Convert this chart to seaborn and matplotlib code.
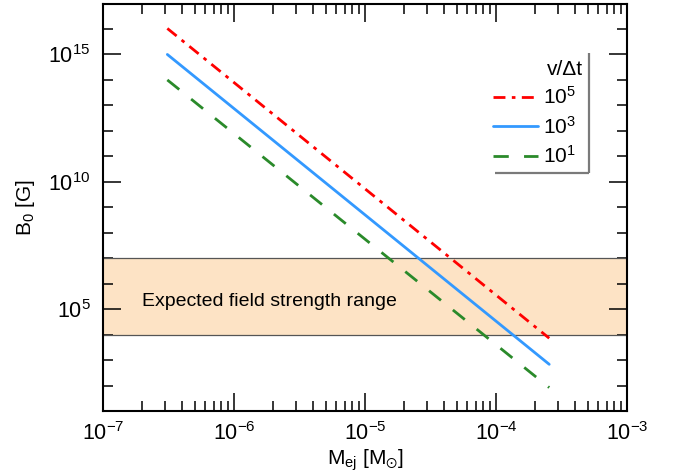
import numpy as np
import pandas as pd
import matplotlib
matplotlib.use("Agg")
import matplotlib.pyplot as plt
import seaborn as sns

# ---- data ----
m_ej = [3.1e-7, 2.55e-4]
b_v5 = [1.05e16, 7.2e3]
b_v3 = [1.0e15, 6.8e2]
b_v1 = [1.0e14, 8.3e1]
series_labels = ["10$^{5}$", "10$^{3}$", "10$^{1}$"]
legend_title = "v/\u0394t"
band_range = [1e4, 1e7]
band_text = "Expected field strength range"
x_ticks = [1e-7, 1e-6, 1e-5, 1e-4, 1e-3]
x_ticklabels = ["10$^{-7}$", "10$^{-6}$", "10$^{-5}$", "10$^{-4}$", "10$^{-3}$"]
y_ticks = [1e5, 1e10, 1e15]
y_ticklabels = ["10$^{5}$", "10$^{10}$", "10$^{15}$"]

sns.set_style("ticks")
plt.rcParams["font.family"] = ["Liberation Sans", "DejaVu Sans"]
plt.rcParams["mathtext.default"] = "regular"
plt.rcParams["mathtext.fontset"] = "custom"
plt.rcParams["mathtext.rm"] = "Liberation Sans"
plt.rcParams["mathtext.it"] = "Liberation Sans"
plt.rcParams["mathtext.fallback"] = "stixsans"
for k in ["text.color", "axes.labelcolor", "xtick.color", "ytick.color"]:
    plt.rcParams[k] = "black"

df = pd.concat([
    pd.DataFrame({"M": m_ej, "B": b_v5, "s": series_labels[0]}),
    pd.DataFrame({"M": m_ej, "B": b_v3, "s": series_labels[1]}),
    pd.DataFrame({"M": m_ej, "B": b_v1, "s": series_labels[2]}),
])

fig = plt.figure(figsize=(6.73, 4.76), dpi=100)
ax = fig.add_axes([0.153, 0.1366, 0.7786, 0.856])

colors = ["#ff0000", "#3399ff", "#2a8a2a"]
dashes = [(4.3, 2.3, 1.3, 2.3), "", (5.5, 5.5)]
fs_tick = 15.5
fs_lab = 15
fs_txt = 14

ax.axhspan(band_range[0], band_range[1], facecolor="#fde3c5", edgecolor="none", zorder=0)
for v in band_range:
    ax.axhline(v, color="#555555", lw=0.9, zorder=1)

for i, lab in enumerate(series_labels):
    sub = df[df["s"] == lab]
    sns.lineplot(data=sub, x="M", y="B", ax=ax, color=colors[i], lw=2.0,
                 label=lab + "  ", zorder=3)
    line = ax.get_lines()[-1]
    if dashes[i]:
        line.set_dashes(dashes[i])

ax.set_xscale("log")
ax.set_yscale("log")
ax.set_xlim(1e-7, 1e-3)
ax.set_ylim(1e1, 1e17)

ax.set_xticks(x_ticks)
ax.set_xticklabels(x_ticklabels)
ax.set_yticks(y_ticks)
ax.set_yticklabels(y_ticklabels)
ax.yaxis.set_minor_locator(matplotlib.ticker.FixedLocator(
    [10.0 ** k for k in range(1, 18) if k not in (5, 10, 15)]))
ax.yaxis.set_minor_formatter(matplotlib.ticker.NullFormatter())
ax.xaxis.set_minor_locator(matplotlib.ticker.LogLocator(base=10, subs=np.arange(2, 10), numticks=50))
ax.xaxis.set_minor_formatter(matplotlib.ticker.NullFormatter())

ax.tick_params(which="both", direction="in", top=True, right=True, color="black",
               labelcolor="black", labelsize=fs_tick, width=1.1)
ax.tick_params(which="major", length=13)
ax.tick_params(which="minor", length=7)
ax.tick_params(axis="y", which="major", pad=9)
ax.tick_params(axis="x", which="major", pad=8)
for sp in ax.spines.values():
    sp.set_linewidth(1.5)
    sp.set_color("black")

ax.set_xlabel("M$_{ej}$ [M$_{\\odot}$]", fontsize=fs_lab, labelpad=2)
ax.set_ylabel("B$_0$ [G]", fontsize=fs_lab, labelpad=8)

ax.text(2.0e-7, 2.0e5, band_text, fontsize=fs_txt, ha="left", va="center", zorder=4)

leg = ax.legend(title=legend_title, loc="upper left", bbox_to_anchor=(0.744, 0.862),
                borderaxespad=0, fontsize=fs_lab, title_fontsize=fs_lab, alignment="right",
                frameon=False, handlelength=2.15, handletextpad=0.25,
                labelspacing=0.36, borderpad=0.0)

# drop shadow of the legend box (right and bottom edges)
sh_x0, sh_x1, sh_y0, sh_y1 = 0.748, 0.9275, 0.584, 0.8785
ax.plot([sh_x1, sh_x1], [sh_y1, sh_y0], transform=ax.transAxes, color="#7a7a7a",
        lw=1.6, solid_capstyle="butt", zorder=5)
ax.plot([sh_x0, sh_x1], [sh_y0, sh_y0], transform=ax.transAxes, color="#7a7a7a",
        lw=1.6, solid_capstyle="butt", zorder=5)

fig.savefig("out.png", dpi=100)
